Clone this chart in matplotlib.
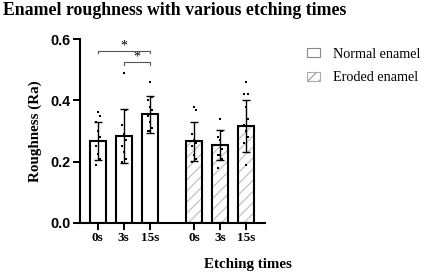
import matplotlib
matplotlib.use('Agg')
import matplotlib.pyplot as plt
from matplotlib.patches import Patch

# data
labels = ['0s', '3s', '15s', '0s', '3s', '15s']
means = [0.267, 0.284, 0.355, 0.267, 0.254, 0.316]
sds = [0.063, 0.089, 0.060, 0.064, 0.050, 0.086]
normal_pts = [
    [0.361, 0.350, 0.330, 0.300, 0.280, 0.250, 0.225, 0.210, 0.190],
    [0.489, 0.370, 0.320, 0.290, 0.270, 0.250, 0.230, 0.210, 0.200],
    [0.459, 0.410, 0.400, 0.380, 0.370, 0.350, 0.330, 0.310, 0.300, 0.300],
]
eroded_pts = [
    [0.380, 0.370, 0.290, 0.270, 0.260, 0.250, 0.220, 0.210, 0.200],
    [0.338, 0.300, 0.280, 0.270, 0.240, 0.220, 0.220, 0.210, 0.180],
    [0.459, 0.420, 0.420, 0.380, 0.340, 0.320, 0.300, 0.280, 0.260, 0.190],
]
points = normal_pts + eroded_pts

xpos = [0, 1, 2, 3.7, 4.7, 5.7]
jitter = [0.0, 0.08, -0.08, 0.0, 0.08, -0.08, 0.0, 0.08, -0.08, 0.0]

serif = 'Liberation Serif'
sans = 'Liberation Sans'

fig = plt.figure(figsize=(4.32, 2.75), dpi=100)
ax = fig.add_axes([0.185, 0.19, 0.428, 0.667])

w = 0.62
for i, x in enumerate(xpos):
    if i >= 3:
        ax.bar(x, means[i], width=w, color='white', edgecolor='#c8c8c8',
               hatch='///', linewidth=0, zorder=1)
    ax.bar(x, means[i], width=w, color='none', edgecolor='black',
           linewidth=1.5, zorder=2)
    ax.errorbar(x, means[i], yerr=sds[i], fmt='none', ecolor='black',
                elinewidth=1, capsize=2.8, capthick=1, zorder=3)
    pts = points[i]
    ax.scatter([x + jitter[k % len(jitter)] for k in range(len(pts))], pts,
               s=3, marker='s', color='black', linewidths=0, zorder=4)

# significance brackets
def bracket(x1, x2, y, h=0.008):
    ax.plot([x1, x1, x2, x2], [y - h, y, y, y - h], color='#555555', lw=0.8,
            clip_on=False, zorder=5)
    ax.text((x1 + x2) / 2, y - 0.005, '*', ha='center', va='bottom',
            fontsize=10, family=serif, color='black')

bracket(xpos[0], xpos[2], 0.563)
bracket(xpos[1], xpos[2], 0.525)

ax.set_xlim(-0.69, 6.43)
ax.set_ylim(0, 0.6)
ax.set_yticks([0.0, 0.2, 0.4, 0.6])
ax.set_yticklabels(['0.0', '0.2', '0.4', '0.6'], fontsize=10.4,
                   family=sans, fontweight='bold')
ax.set_xticks(xpos)
ax.set_xticklabels(labels, fontsize=9.5, family=serif, fontweight='bold')
ax.tick_params(axis='both', width=1.4, length=5, pad=2)
for s in ['top', 'right']:
    ax.spines[s].set_visible(False)
for s in ['left', 'bottom']:
    ax.spines[s].set_linewidth(1.5)

ax.set_ylabel('Roughness (Ra)', fontsize=10.8, family=serif, fontweight='bold',
              labelpad=6)
ax.set_xlabel('Etching times', fontsize=10.8, family=serif, fontweight='bold')
ax.xaxis.set_label_coords(0.91, -0.19)

fig.text(0.007, 0.962, 'Enamel roughness with various etching times',
         fontsize=12.8, family=serif, fontweight='bold', va='center')

handles = [
    Patch(facecolor='white', edgecolor='#888888', linewidth=0.8,
          label='Normal enamel'),
    Patch(facecolor='white', edgecolor='#aaaaaa', hatch='///', linewidth=0.8,
          label='Eroded enamel'),
]
fig.legend(handles=handles, loc='upper left', bbox_to_anchor=(0.68, 0.873),
           frameon=False, prop={'family': serif, 'size': 10.2},
           handlelength=0.95, handleheight=0.6, labelspacing=0.75,
           handletextpad=0.9)

fig.savefig('out.png', dpi=100)
